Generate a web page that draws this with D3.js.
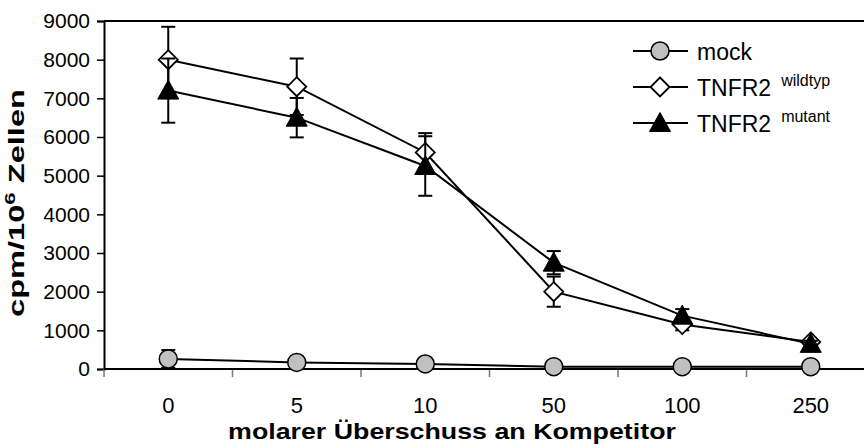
<!DOCTYPE html>
<html>
<head>
<meta charset="utf-8">
<script src="https://cdn.jsdelivr.net/npm/d3@7"></script>
<style>
  html, body { margin: 0; padding: 0; background: #fff; }
  svg { display: block; font-family: "Liberation Sans", Arial, sans-serif; }
</style>
</head>
<body>
<svg id="chart" width="864" height="445"></svg>
<script>
// ---- data ----
const categories = ["0", "5", "10", "50", "100", "250"];
const mockValues = [260, 170, 130, 60, 60, 60];
const mockErrors = [230, 40, 30, 20, 20, 20];
const wildtypValues = [8000, 7300, 5600, 2000, 1150, 700];
const wildtypErrors = [850, 730, 500, 390, 150, 60];
const mutantValues = [7200, 6500, 5250, 2750, 1380, 650];
const mutantErrors = [830, 510, 770, 300, 170, 80];
const yTickValues = [0, 1000, 2000, 3000, 4000, 5000, 6000, 7000, 8000, 9000];
const seriesNames = ["mock", "TNFR2", "TNFR2"];
const seriesSup = ["", "wildtyp", "mutant"];
const xTitle = "molarer Überschuss an Kompetitor";
const yTitleMain = "cpm/10";
const yTitleSup = "6";
const yTitleEnd = " Zellen";

(function () {
// ---- layout ----
const svg = d3.select("#chart");
const mLeft = 104, mRight = 875, mTop = 21, mBottom = 369;

const x = d3.scaleBand().domain(categories).range([mLeft, mRight]).padding(0);
const y = d3.scaleLinear().domain([0, 9000]).range([mBottom, mTop]);
const cx = c => x(c) + x.bandwidth() / 2;

const series = [
  { name: seriesNames[0], sup: seriesSup[0], values: mockValues, errors: mockErrors, marker: "circle" },
  { name: seriesNames[1], sup: seriesSup[1], values: wildtypValues, errors: wildtypErrors, marker: "diamond" },
  { name: seriesNames[2], sup: seriesSup[2], values: mutantValues, errors: mutantErrors, marker: "triangle" }
];

// top border of plot area
svg.append("line").attr("x1", mLeft).attr("x2", 864).attr("y1", mTop).attr("y2", mTop)
  .attr("stroke", "#000").attr("stroke-width", 2);

// y axis
const yAxis = svg.append("g").attr("transform", `translate(${mLeft},0)`)
  .call(d3.axisLeft(y).tickValues(yTickValues).tickSize(7).tickPadding(7).tickFormat(d3.format("d")));
yAxis.select(".domain").attr("stroke", "#000").attr("stroke-width", 2);
yAxis.selectAll(".tick line").attr("stroke", "#000").attr("stroke-width", 1.5);
yAxis.selectAll(".tick text").attr("font-size", 21).attr("fill", "#000")
  .attr("font-family", "Liberation Sans, Arial, sans-serif");

// x axis labels (band centers)
const xAxis = svg.append("g").attr("transform", `translate(0,${mBottom})`)
  .call(d3.axisBottom(x).tickSize(0).tickPadding(28));
xAxis.select(".domain").remove();
xAxis.selectAll(".tick text").attr("font-size", 22).attr("fill", "#000")
  .attr("font-family", "Liberation Sans, Arial, sans-serif");

// x axis line and boundary ticks
const boundaries = categories.map(c => x(c)).concat([x.range()[1]]);
svg.append("g").selectAll("line").data(boundaries).join("line")
  .attr("x1", d => d).attr("x2", d => d).attr("y1", mBottom).attr("y2", mBottom + 8)
  .attr("stroke", "#777").attr("stroke-width", 1.5);
svg.append("line").attr("x1", mLeft).attr("x2", 864).attr("y1", mBottom).attr("y2", mBottom)
  .attr("stroke", "#000").attr("stroke-width", 2);

// markers
function drawMarker(g, type) {
  if (type === "circle") {
    g.append("circle").attr("r", 9).attr("fill", "#c0c0c0").attr("stroke", "#000").attr("stroke-width", 1.5);
  } else if (type === "diamond") {
    g.append("path").attr("d", "M0,-9.5L9.5,0L0,9.5L-9.5,0Z").attr("fill", "#fff").attr("stroke", "#000").attr("stroke-width", 1.8);
  } else {
    g.append("path").attr("d", "M0,-10.5L10.5,8.5L-10.5,8.5Z").attr("fill", "#000").attr("stroke", "#000").attr("stroke-width", 1);
  }
}

const line = d3.line().x((d, i) => cx(categories[i])).y(d => y(d));

series.forEach(s => {
  const g = svg.append("g");
  g.append("path").attr("d", line(s.values)).attr("fill", "none").attr("stroke", "#000").attr("stroke-width", 2);
  // error bars
  s.values.forEach((v, i) => {
    const xc = cx(categories[i]);
    const y1 = y(v + s.errors[i]), y2 = y(Math.max(0, v - s.errors[i]));
    g.append("line").attr("x1", xc).attr("x2", xc).attr("y1", y1).attr("y2", y2)
      .attr("stroke", "#000").attr("stroke-width", 2);
    [y1, y2].forEach(yy => {
      g.append("line").attr("x1", xc - 7).attr("x2", xc + 7).attr("y1", yy).attr("y2", yy)
        .attr("stroke", "#000").attr("stroke-width", 2);
    });
  });
  s.values.forEach((v, i) => {
    const mg = g.append("g").attr("transform", `translate(${cx(categories[i])},${y(v)})`);
    drawMarker(mg, s.marker);
  });
});

// legend
const legend = svg.append("g");
series.forEach((s, i) => {
  const ly = 51 + i * 36;
  const lg = legend.append("g");
  lg.append("line").attr("x1", 633).attr("x2", 688).attr("y1", ly).attr("y2", ly)
    .attr("stroke", "#000").attr("stroke-width", 2);
  const mg = lg.append("g").attr("transform", `translate(660,${ly})`);
  drawMarker(mg, s.marker);
  const t = lg.append("text").attr("x", 697).attr("y", ly + 9).attr("font-size", 23).attr("fill", "#000");
  t.append("tspan").text(s.name);
  if (s.sup) {
    t.append("tspan").attr("dx", 10).attr("dy", -10).attr("font-size", 16).text(s.sup);
  }
});

// axis titles (horizontally stretched like the reference)
const xt = svg.append("text").attr("text-anchor", "middle")
  .attr("font-size", 22).attr("font-weight", "bold").attr("fill", "#000").text(xTitle);
const xtLen = xt.node().getComputedTextLength();
xt.attr("transform", `translate(452,439) scale(${448 / xtLen},1)`);

const yt = svg.append("text").attr("text-anchor", "middle")
  .attr("font-size", 22).attr("font-weight", "bold").attr("fill", "#000");
yt.append("tspan").text(yTitleMain);
yt.append("tspan").attr("dy", -9).attr("font-size", 15).text(yTitleSup);
yt.append("tspan").attr("dy", 9).text(yTitleEnd);
const ytLen = yt.node().getComputedTextLength();
yt.attr("transform", `translate(24,203) rotate(-90) scale(${228 / ytLen},1)`);
})();
</script>
</body>
</html>
